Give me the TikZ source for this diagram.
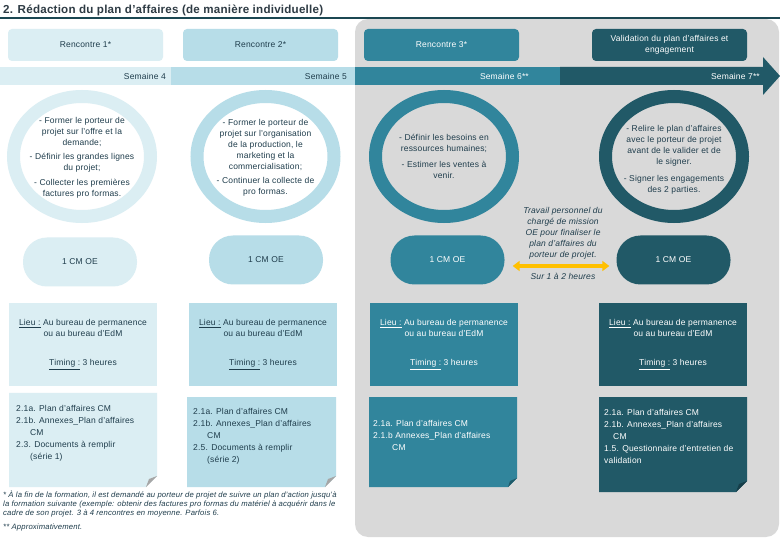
\documentclass[tikz,border=0pt]{standalone}
\usepackage{fontspec}
\setmainfont{Liberation Sans}[LetterSpace=2]
\usetikzlibrary{shapes.geometric,arrows.meta}
\definecolor{cA}{HTML}{DBEEF3}
\definecolor{cB}{HTML}{B7DDE8}
\definecolor{cC}{HTML}{31859C}
\definecolor{cD}{HTML}{215967}
\definecolor{panel}{HTML}{D9D9D9}
\definecolor{ink}{HTML}{1F3D4C}
\definecolor{titleink}{HTML}{2E3B44}
\definecolor{gold}{HTML}{FFC000}
\definecolor{foldA}{HTML}{A6A6A6}
\definecolor{foldC}{HTML}{1F5A69}
\definecolor{foldD}{HTML}{163E49}
\begin{document}
\begin{tikzpicture}[x=1pt,y=-1pt,
  every node/.style={text=ink, font=\fontsize{8.5}{11}\selectfont, inner sep=0pt},
  topbox/.style={rounded corners=4pt, minimum width=155pt, minimum height=32pt, align=center},
  ring/.style={ellipse, line width=13pt, minimum width=137pt, minimum height=120pt},
  ringtext/.style={align=center, font=\fontsize{8.5}{11}\selectfont},
  pill/.style={rounded corners=24pt, minimum width=114pt, minimum height=49pt},
  lieu/.style={minimum width=148pt, minimum height=83pt, align=center},
  doctext/.style={anchor=north west, align=left, font=\fontsize{8.5}{12}\selectfont},
  weeklabel/.style={anchor=east},
  note/.style={align=center, font=\fontsize{8.5}{11}\selectfont\itshape},
  yarrow/.style={draw=gold, line width=3.5pt, {Triangle[width=10pt,length=7pt]}-{Triangle[width=10pt,length=7pt]}}
]
\useasboundingbox (0,0) rectangle (780,540);
\fill[white] (0,0) rectangle (780,540);
\fill[panel, rounded corners=13pt] (355,19) rectangle (779,537);
\draw[line width=2.8pt, cD!80!black] (0,18) -- (780,18);
\node[anchor=base west, text=titleink, font=\fontsize{11.6}{13}\selectfont\bfseries] (title) at (3,14) {2. Rédaction du plan d'affaires (de manière individuelle)};

% top boxes
\node[topbox, fill=cA] (r1) at (85.5,45) {Rencontre 1*};
\node[topbox, fill=cB] (r2) at (260.5,45) {Rencontre 2*};
\node[topbox, fill=cC, text=white] (r3) at (441.5,45) {Rencontre 3*};
\node[topbox, fill=cD, text=white] (r4) at (669.5,45) {Validation du plan d'affaires et\\engagement};

% timeline
\fill[cA] (0,67) rectangle (171,85);
\fill[cB] (171,67) rectangle (355,85);
\fill[cC] (355,67) rectangle (560,85);
\fill[cD] (560,67) -- (763,67) -- (763,57) -- (780,76) -- (763,95) -- (763,85) -- (560,85) -- cycle;
\node[weeklabel] (w4) at (166,76) {Semaine 4};
\node[weeklabel] (w5) at (347,76) {Semaine 5};
\node[weeklabel, text=white] (w6) at (529,76) {Semaine 6**};
\node[weeklabel, text=white] (w7) at (760,76) {Semaine 7**};

% rings
\node[ring, draw=cA, fill=white] (c1) at (82,156.5) {};
\node[ring, draw=cB, fill=white] (c2) at (265.5,156.5) {};
\node[ring, draw=cC, fill=panel] (c3) at (444,156.5) {};
\node[ring, draw=cD, fill=panel] (c4) at (674,156.5) {};
\node[ringtext] (t1) at (82,158) {- Former le porteur de\\projet sur l'offre et la\\demande;\\[3pt]- Définir les grandes lignes\\du projet;\\[4pt]- Collecter les premières\\factures pro formas.};
\node[ringtext] (t2) at (265.5,158) {- Former le porteur de\\projet sur l'organisation\\de la production, le\\marketing et la\\commercialisation;\\[3pt]- Continuer la collecte de\\pro formas.};
\node[ringtext] (t3) at (444,156.5) {- Définir les besoins en\\ressources humaines;\\[5pt]- Estimer les ventes à\\venir.};
\node[ringtext] (t4) at (674,160) {- Relire le plan d'affaires\\avec le porteur de projet\\avant de le valider et de\\le signer.\\[6pt]- Signer les engagements\\des 2 parties.};

% pills
\node[pill, fill=cA] (p1) at (80,262) {1 CM OE};
\node[pill, fill=cB] (p2) at (266,260) {1 CM OE};
\node[pill, fill=cC, text=white] (p3) at (447.5,260) {1 CM OE};
\node[pill, fill=cD, text=white] (p4) at (673.5,260) {1 CM OE};
\draw[yarrow] ([xshift=8pt,yshift=-6pt]p3.east) -- ([xshift=-7pt,yshift=-6pt]p4.west);
\node[note] (work) at (563,233) {Travail personnel du\\chargé de mission\\OE pour finaliser le\\plan d'affaires du\\porteur de projet.};
\node[note] (dur) at (563,276) {Sur 1 à 2 heures};

% lieu boxes
\node[lieu, fill=cA] (l1) at (83,344.5) {\underline{Lieu :} Au bureau de permanence\\ou au bureau d'EdM\\[18pt]\underline{Timing :} 3 heures};
\node[lieu, fill=cB] (l2) at (263,344.5) {\underline{Lieu :} Au bureau de permanence\\ou au bureau d'EdM\\[18pt]\underline{Timing :} 3 heures};
\node[lieu, fill=cC, text=white] (l3) at (444,344.5) {\underline{Lieu :} Au bureau de permanence\\ou au bureau d'EdM\\[18pt]\underline{Timing :} 3 heures};
\node[lieu, fill=cD, text=white] (l4) at (673,344.5) {\underline{Lieu :} Au bureau de permanence\\ou au bureau d'EdM\\[18pt]\underline{Timing :} 3 heures};

% document boxes
\fill[cA] (9,393) -- (157,393) -- (157,476) -- (146,487) -- (9,487) -- cycle;
\fill[foldA] (146,487) -- (157,476) -- (149,479) -- cycle;
\fill[cB] (187,397) -- (336,397) -- (336,476) -- (325,487) -- (187,487) -- cycle;
\fill[foldA] (325,487) -- (336,476) -- (328,479) -- cycle;
\fill[cC] (369,397) -- (517,397) -- (517,478) -- (508,487) -- (369,487) -- cycle;
\fill[foldC] (508,487) -- (517,478) -- (510,481) -- cycle;
\fill[cD] (599,397) -- (747,397) -- (747,481) -- (736,492) -- (599,492) -- cycle;
\fill[foldD] (736,492) -- (747,481) -- (739,484) -- cycle;
\node[doctext] (d1) at (16,405) {2.1a. Plan d'affaires CM\\2.1b. Annexes\_Plan d'affaires\\\hspace*{14pt}CM\\2.3. Documents à remplir\\\hspace*{14pt}(série 1)};
\node[doctext] (d2) at (193,408) {2.1a. Plan d'affaires CM\\2.1b. Annexes\_Plan d'affaires\\\hspace*{14pt}CM\\2.5. Documents à remplir\\\hspace*{14pt}(série 2)};
\node[doctext, text=white] (d3) at (373,420) {2.1a. Plan d'affaires CM\\2.1.b Annexes\_Plan d'affaires\\\hspace*{19pt}CM};
\node[doctext, text=white] (d4) at (604,409) {2.1a. Plan d'affaires CM\\2.1b. Annexes\_Plan d'affaires\\\hspace*{9pt}CM\\1.5. Questionnaire d'entretien de\\validation};

% footnotes
\node[anchor=north west, align=left, font=\fontsize{7.7}{9}\selectfont\itshape] (fn) at (3,491) {* À la fin de la formation, il est demandé au porteur de projet de suivre un plan d'action jusqu'à\\la formation suivante (exemple: obtenir des factures pro formas du matériel à acquérir dans le\\cadre de son projet. 3 à 4 rencontres en moyenne. Parfois 6.\\[5pt]** Approximativement.};
\end{tikzpicture}
\end{document}
